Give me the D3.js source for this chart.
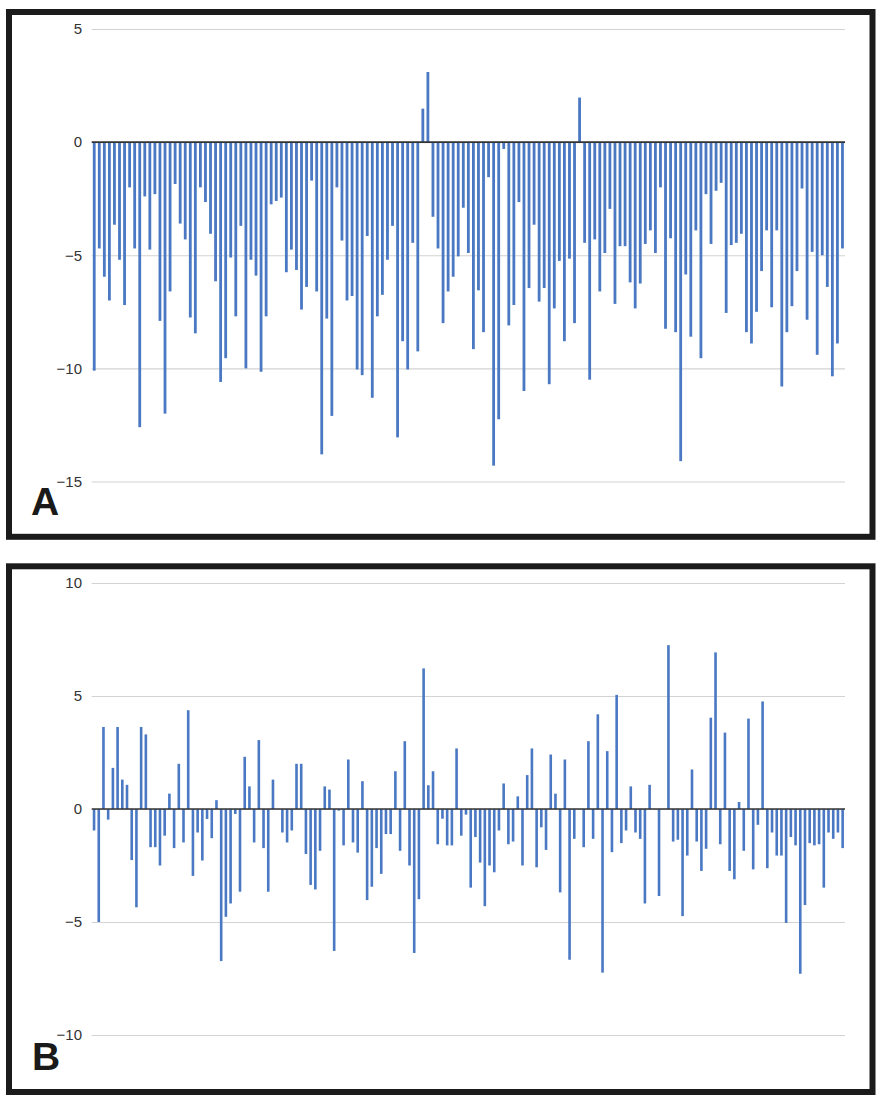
<!DOCTYPE html>
<html>
<head>
<meta charset="utf-8">
<script src="https://cdn.jsdelivr.net/npm/d3@7"></script>
<style>
  html, body { margin: 0; padding: 0; background: #fff; }
  svg { display: block; }
</style>
</head>
<body>
<svg id="chart" width="881" height="1101"></svg>
<script>
// ---- Data ----
const valuesA = [
  -10.1, -4.7, -5.95, -7.0, -3.65, -5.2, -7.2, -2.0, -4.7, -12.6,
  -2.4, -4.75, -2.3, -7.9, -12.0, -6.6, -1.85, -3.6, -4.3, -7.75,
  -8.45, -2.0, -2.65, -4.05, -6.15, -10.6, -9.55, -5.1, -7.7, -3.7,
  -10.0, -5.2, -5.9, -10.15, -7.7, -2.75, -2.6, -2.45, -5.75, -4.75,
  -5.65, -7.4, -6.4, -1.7, -6.6, -13.8, -7.8, -12.1, -2.0, -4.35,
  -7.0, -6.8, -10.05, -10.3, -4.15, -11.3, -7.7, -6.75, -5.2, -3.7,
  -13.05, -8.8, -10.05, -4.45, -9.25, 1.48, 3.1, -3.3, -4.7, -8.0,
  -6.6, -5.95, -5.05, -2.9, -4.9, -9.15, -6.55, -8.4, -1.55, -14.3,
  -12.25, -0.3, -8.1, -7.2, -2.65, -11.0, -6.45, -3.65, -7.05, -6.45,
  -10.7, -7.35, -5.25, -8.8, -5.15, -8.0, 1.97, -4.45, -10.5, -4.3,
  -6.6, -4.9, -2.95, -7.15, -4.6, -4.6, -6.2, -7.35, -6.25, -4.5,
  -3.9, -4.9, -2.0, -8.25, -4.25, -8.4, -14.1, -5.85, -8.6, -3.9,
  -9.55, -2.3, -4.5, -2.15, -1.8, -7.55, -4.55, -4.45, -4.05, -8.4,
  -8.9, -7.5, -5.7, -3.9, -7.3, -3.9, -10.8, -8.4, -7.25, -5.7,
  -2.05, -7.85, -4.85, -9.4, -5.0, -6.4, -10.35, -8.9, -4.7
];
const valuesB = [
  -0.95, -5.0, 3.63, -0.47, 1.82, 3.63, 1.3, 1.07, -2.26, -4.35,
  3.63, 3.3, -1.69, -1.69, -2.5, -1.18, 0.68, -1.73, 2.0, -1.48,
  4.37, -2.96, -1.04, -2.28, -0.44, -1.29, 0.39, -6.73, -4.77, -4.18,
  -0.22, -3.66, 2.31, 1.0, -1.48, 3.05, -1.73, -3.66, 1.3, 0,
  -1.04, -1.48, -0.95, 2.0, 2.0, -1.99, -3.36, -3.56, -1.85, 1.0,
  0.86, -6.28, -0.07, -1.61, 2.19, -1.48, -1.93, 1.23, -4.03, -3.44,
  -1.73, -2.87, -1.11, -1.11, 1.67, -1.85, 3.0, -2.5, -6.37, -3.99,
  6.22, 1.05, 1.67, -1.56, -0.43, -1.61, -1.61, 2.68, -1.18, -0.25,
  -3.48, -1.24, -2.37, -4.3, -2.5, -2.8, -0.95, 1.13, -1.56, -1.44,
  0.56, -2.5, 1.5, 2.68, -2.58, -0.81, -1.81, 2.41, 0.68, -3.69,
  2.19, -6.67, -1.32, 0, -1.69, 3.0, -1.32, 4.19, -7.24, 2.56,
  -1.91, 5.05, -1.51, -0.95, 1.0, -1.04, -1.32, -4.18, 1.07, 0,
  -3.85, 0, 7.25, -1.44, -1.36, -4.74, -2.06, 1.75, -1.44, -2.74,
  -1.76, 4.04, 6.93, -1.56, 3.38, -2.74, -3.11, 0.31, -1.85, 4.0,
  -2.67, -0.7, 4.76, -2.62, -1.04, -2.06, -2.06, -5.04, -1.24, -1.61,
  -7.29, -4.25, -1.51, -1.61, -1.56, -3.48, -1.04, -1.32, -1.04, -1.73
];
const ticksA = [5, 0, -5, -10, -15];
const ticksB = [10, 5, 0, -5, -10];
const labelA = "A";
const labelB = "B";

// ---- Drawing ----
const svg = d3.select("#chart");
const barColor = "#4a78c2";
const gridLeft = 91.7, gridRight = 845;

function panel(cfg) {
  const g = svg.append("g");
  // frame
  g.append("rect")
    .attr("x", cfg.frame[0]).attr("y", cfg.frame[1])
    .attr("width", cfg.frame[2]).attr("height", cfg.frame[3])
    .attr("fill", "none").attr("stroke", "#1b1b1b").attr("stroke-width", 6);

  const x = d3.scaleBand()
    .domain(d3.range(cfg.values.length))
    .range([gridLeft, gridRight]);
  const y = d3.scaleLinear().domain(cfg.domain).range(cfg.yRange);

  // y axis with gridlines
  const axis = d3.axisLeft(y)
    .tickValues(cfg.ticks)
    .tickSize(-(gridRight - gridLeft))
    .tickPadding(9.7)
    .tickFormat(d3.format("d"));
  const ag = g.append("g")
    .attr("transform", `translate(${gridLeft},0)`)
    .call(axis);
  ag.select(".domain").remove();
  ag.selectAll(".tick line").attr("stroke", "#d3d3d3").attr("stroke-width", 1.2);
  ag.selectAll(".tick text")
    .attr("fill", "#333")
    .style("font-family", "'Liberation Sans', Arial, sans-serif")
    .style("font-size", "15px");

  // bars
  const bw = cfg.barWidth;
  g.append("g").selectAll("rect")
    .data(cfg.values)
    .join("rect")
    .attr("x", (d, i) => x(i) + x.bandwidth() / 2 - bw / 2)
    .attr("width", bw)
    .attr("y", d => Math.min(y(d), y(0)))
    .attr("height", d => Math.abs(y(d) - y(0)))
    .attr("fill", barColor);

  // baseline
  g.append("line")
    .attr("x1", gridLeft).attr("x2", gridRight)
    .attr("y1", y(0)).attr("y2", y(0))
    .attr("stroke", "#333").attr("stroke-width", 1.6);

  // panel label
  g.append("text")
    .attr("x", cfg.labelPos[0]).attr("y", cfg.labelPos[1])
    .attr("fill", "#1a1a1a")
    .style("font-family", "'Liberation Sans', Arial, sans-serif")
    .style("font-weight", "bold")
    .style("font-size", "39px")
    .text(cfg.label);
}

panel({
  values: valuesA, ticks: ticksA, domain: [5, -15], yRange: [29, 481.5],
  frame: [9, 12, 863.5, 524.8], labelPos: [31, 515], label: labelA, barWidth: 2.8
});
panel({
  values: valuesB, ticks: ticksB, domain: [10, -10], yRange: [583, 1035],
  frame: [9, 566.3, 863.5, 525.7], labelPos: [32, 1070], label: labelB, barWidth: 2.6
});
</script>
</body>
</html>
